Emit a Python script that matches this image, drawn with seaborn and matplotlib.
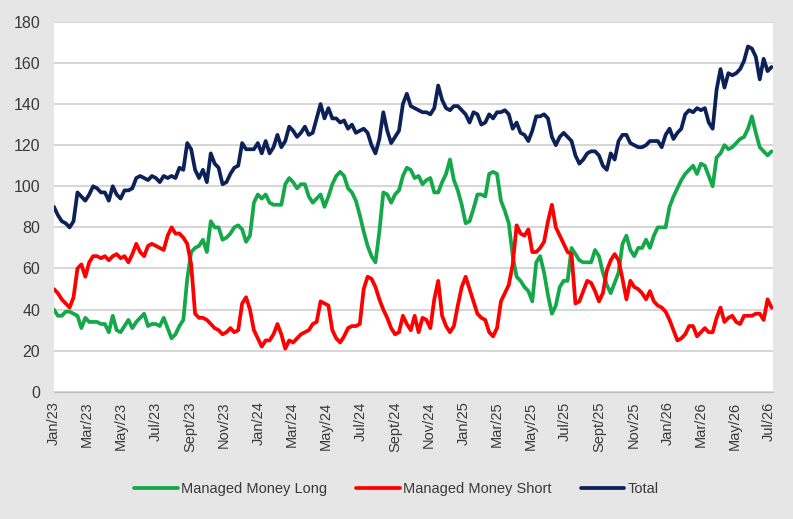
import matplotlib
matplotlib.use("Agg")
import matplotlib.pyplot as plt
import seaborn as sns
import pandas as pd

# weekly positioning data, Jan 2023 - Jul 2026
start_date = "2023-01-01"

total = [
    90, 86, 83, 82, 80, 83, 97, 95, 93, 96,
    100, 99, 97, 97, 93, 100, 96, 94, 98, 98,
    99, 104, 105, 104, 103, 105, 104, 102, 105, 104,
    105, 104, 109, 108, 121, 118, 108, 104, 108, 102,
    116, 111, 109, 101, 102, 106, 109, 110, 121, 118,
    118, 118, 121, 116, 122, 116, 119, 125, 119, 122,
    129, 127, 124, 126, 129, 125, 126, 133, 140, 133,
    138, 133, 133, 131, 132, 128, 130, 126, 127, 128,
    126, 120, 116, 123, 136, 127, 121, 124, 127, 140,
    145, 139, 138, 137, 136, 136, 135, 138, 149, 142,
    138, 137, 139, 139, 137, 135, 131, 136, 135, 130,
    131, 135, 133, 136, 136, 137, 135, 128, 131, 126,
    125, 122, 127, 134, 134, 135, 133, 124, 120, 124,
    126, 124, 122, 115, 111, 113, 116, 117, 117, 115,
    110, 108, 116, 113, 122, 125, 125, 121, 120, 119,
    119, 120, 122, 122, 122, 119, 125, 128, 123, 126,
    128, 135, 137, 136, 138, 137, 138, 131, 128, 147,
    157, 148, 155, 154, 155, 157, 161, 168, 167, 163,
    152, 162, 156, 158,
]

mm_long = [
    40, 37, 37, 39, 39, 38, 37, 31, 36, 34,
    34, 34, 33, 33, 29, 37, 30, 29, 32, 35,
    31, 34, 36, 38, 32, 33, 33, 32, 36, 31,
    26, 28, 32, 35, 55, 68, 70, 71, 74, 68,
    83, 80, 80, 74, 75, 77, 80, 81, 79, 73,
    76, 92, 96, 94, 96, 92, 91, 91, 91, 101,
    104, 102, 99, 101, 101, 95, 92, 94, 96, 90,
    95, 101, 105, 107, 105, 99, 97, 93, 86, 78,
    71, 66, 63, 78, 97, 96, 92, 96, 98, 105,
    109, 108, 104, 105, 101, 103, 104, 97, 97, 102,
    106, 113, 103, 98, 91, 82, 83, 89, 96, 96,
    95, 106, 107, 106, 93, 88, 82, 66, 56, 54,
    51, 49, 44, 63, 66, 58, 47, 38, 42, 51,
    54, 54, 70, 67, 64, 63, 63, 63, 69, 66,
    58, 52, 48, 53, 58, 72, 76, 69, 66, 70,
    70, 74, 70, 76, 80, 80, 80, 90, 95, 99,
    103, 106, 108, 110, 106, 111, 110, 105, 100, 114,
    116, 120, 118, 119, 121, 123, 124, 128, 134, 126,
    119, 117, 115, 117,
]

mm_short = [
    50, 48, 45, 43, 41, 46, 60, 62, 56, 63,
    66, 66, 65, 66, 64, 66, 67, 65, 66, 63,
    67, 72, 68, 66, 71, 72, 71, 70, 69, 76,
    80, 77, 77, 75, 72, 62, 38, 36, 36, 35,
    33, 31, 30, 28, 29, 31, 29, 30, 43, 46,
    40, 30, 26, 22, 25, 25, 28, 33, 28, 21,
    25, 24, 26, 28, 29, 30, 33, 34, 44, 43,
    42, 30, 26, 24, 27, 31, 32, 32, 33, 50,
    56, 55, 51, 45, 40, 36, 31, 28, 29, 37,
    33, 30, 37, 29, 36, 35, 31, 45, 54, 37,
    32, 29, 32, 42, 51, 56, 50, 44, 38, 36,
    35, 29, 27, 31, 44, 48, 52, 62, 81, 77,
    76, 79, 68, 68, 70, 73, 83, 91, 80, 76,
    72, 68, 67, 43, 44, 49, 54, 53, 49, 44,
    48, 59, 64, 67, 64, 55, 45, 54, 51, 50,
    48, 45, 49, 44, 42, 41, 39, 35, 30, 25,
    26, 28, 32, 32, 27, 29, 31, 29, 29, 36,
    41, 34, 36, 37, 34, 33, 37, 37, 37, 38,
    38, 35, 45, 41,
]

month_names = {1: "Jan", 3: "Mar", 5: "May", 7: "Jul", 9: "Sept", 11: "Nov"}

dates = pd.date_range(start_date, periods=len(total), freq="7D")
df = pd.DataFrame({"date": dates, "long": mm_long, "short": mm_short, "total": total})

sns.set_style("white")
plt.rcParams["font.family"] = ["Liberation Sans", "DejaVu Sans"]

fig = plt.figure(figsize=(7.93, 5.19), dpi=100, facecolor="#e6e6e6")
ax = fig.add_axes([0.068, 0.245, 0.907, 0.713])
ax.set_facecolor("white")

sns.lineplot(data=df, x="date", y="long", ax=ax, color="#14a84a", lw=2.7, label="Managed Money Long")
sns.lineplot(data=df, x="date", y="short", ax=ax, color="#ff0000", lw=2.7, label="Managed Money Short")
sns.lineplot(data=df, x="date", y="total", ax=ax, color="#0b2157", lw=2.7, label="Total")

ax.set_ylim(0, 180)
ax.set_yticks(range(0, 181, 20))
ax.set_xlim(pd.Timestamp("2023-01-01"), pd.Timestamp("2026-07-08"))

ticks = pd.date_range("2023-01-01", "2026-07-01", freq="2MS")
ax.set_xticks(ticks)
ax.set_xticklabels([f"{month_names[t.month]}/{t.strftime('%y')}" for t in ticks],
                   rotation=90, fontsize=10.5, color="#3a3a3a")
ax.tick_params(axis="x", length=5, width=1, color="#bfbfbf", pad=2)
ax.tick_params(axis="y", length=0, pad=10, labelsize=11.5, labelcolor="#3a3a3a")

ax.grid(axis="y", color="#d6d6d6", lw=1.4)
ax.set_axisbelow(True)
for s in ["left", "right", "top"]:
    ax.spines[s].set_visible(False)
ax.spines["bottom"].set_color("#bfbfbf")
ax.set_xlabel("")
ax.set_ylabel("")

# legend centred under the chart
handles, labels = ax.get_legend_handles_labels()
ax.get_legend().remove()
fig.legend(handles, labels, loc="center", bbox_to_anchor=(0.5, 0.058), ncol=3,
           frameon=False, fontsize=10.5, handlelength=3.0, handletextpad=0.2,
           columnspacing=2.0, labelcolor="#3a3a3a")

fig.savefig("out.png", dpi=100, facecolor=fig.get_facecolor())
